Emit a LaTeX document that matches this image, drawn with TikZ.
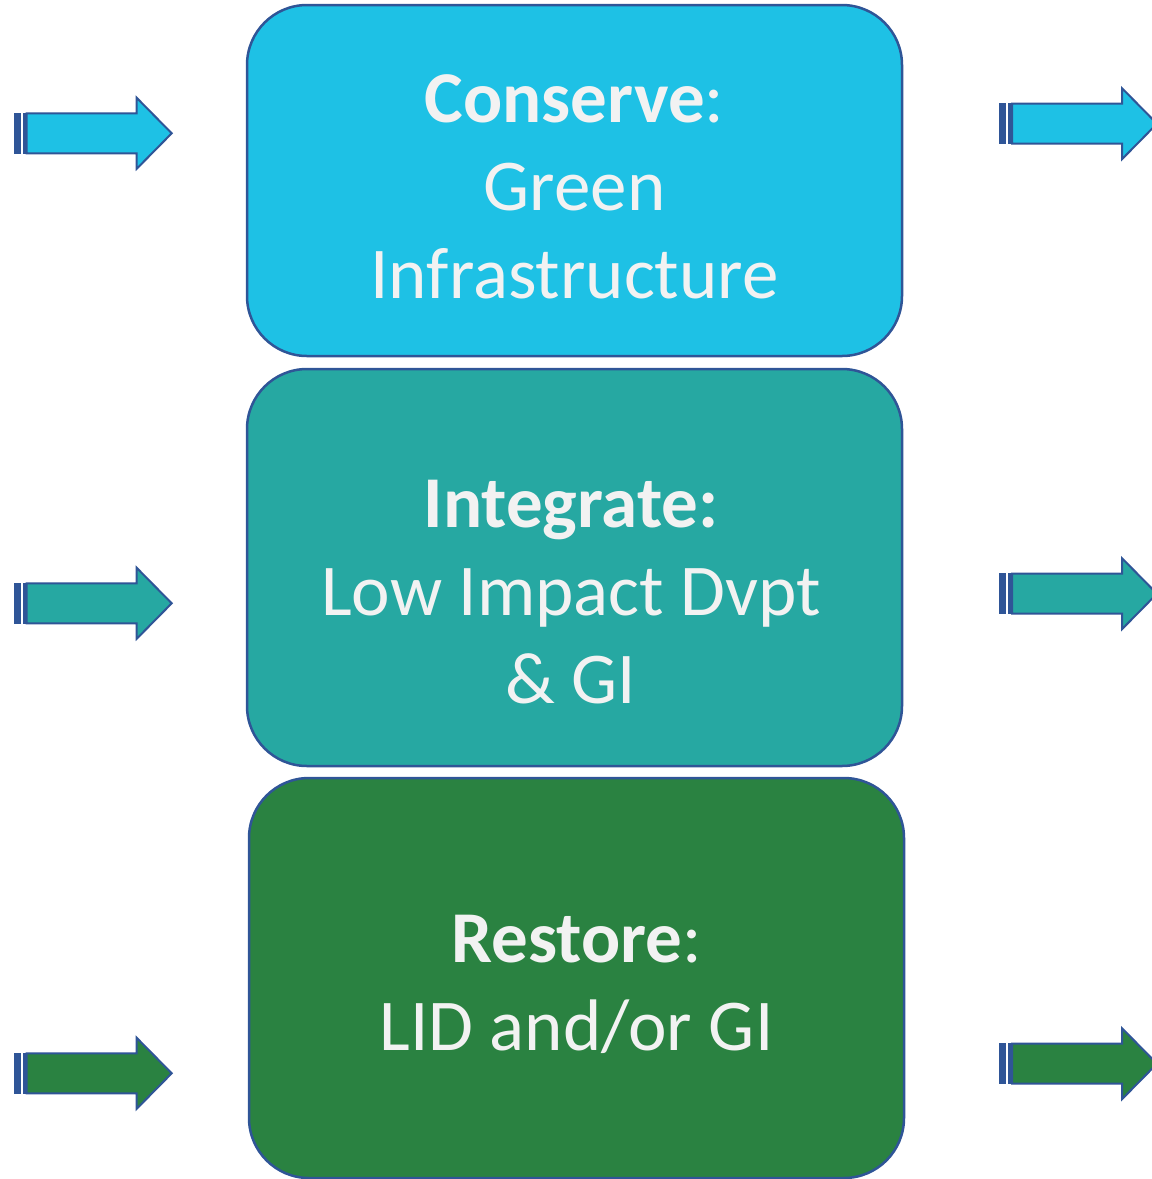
\documentclass[tikz,border=0pt]{standalone}
\usepackage{fontspec}
\setmainfont{Carlito}
\definecolor{conservecol}{HTML}{1EC1E5}
\definecolor{integratecol}{HTML}{26A8A2}
\definecolor{restorecol}{HTML}{2A8241}
\definecolor{edgecol}{HTML}{2F5597}
\definecolor{textcol}{HTML}{F2F2F2}

\begin{document}
\begin{tikzpicture}[x=1pt,y=-1pt,
    box/.style={rectangle, rounded corners=60pt, draw=edgecol, line width=2.5pt, minimum width=655pt, inner sep=0pt},
    boxtext/.style={text=textcol, align=center, font=\fontsize{73}{88}\selectfont}]
    \useasboundingbox (0,0) rectangle (1152,1179);
    \node[box, fill=conservecol, minimum height=351pt] (conserve) at (574.5,180.5) {};
    \node[box, fill=integratecol, minimum height=397pt] (integrate) at (574.5,567.5) {};
    \node[box, fill=restorecol, minimum height=400pt] (restore) at (576.5,978) {};
    \node[boxtext] (conservetext) at (574.5,187) {\textbf{Conserve}:\\Green\\Infrastructure};
    \node[boxtext] (integratetext) at (571,592) {\textbf{Integrate:}\\Low Impact Dvpt\\\& GI};
    \node[boxtext] (restoretext) at (576.5,984) {\textbf{Restore}:\\LID and/or GI};
\begin{scope}[line width=2pt, line join=miter]
    \foreach \x/\y/\c in {14/133.3/conservecol, 14/603.3/integratecol, 14/1073.3/restorecol,
        999.3/123.7/conservecol, 999.3/593.7/integratecol, 999.3/1063.7/restorecol} {
      \fill[edgecol] (\x,\y-20.5) rectangle (\x+6.5,\y+20.5);
      \fill[edgecol] (\x+8.5,\y-20.5) rectangle (\x+12,\y+20.5);
      \draw[edgecol, fill=\c] (\x+12.7,\y-20) -- (\x+122.7,\y-20) -- (\x+122.7,\y-35.5) -- (\x+157.7,\y)
        -- (\x+122.7,\y+35.5) -- (\x+122.7,\y+20) -- (\x+12.7,\y+20) -- cycle;
    }
\end{scope}
\end{tikzpicture}
\end{document}
